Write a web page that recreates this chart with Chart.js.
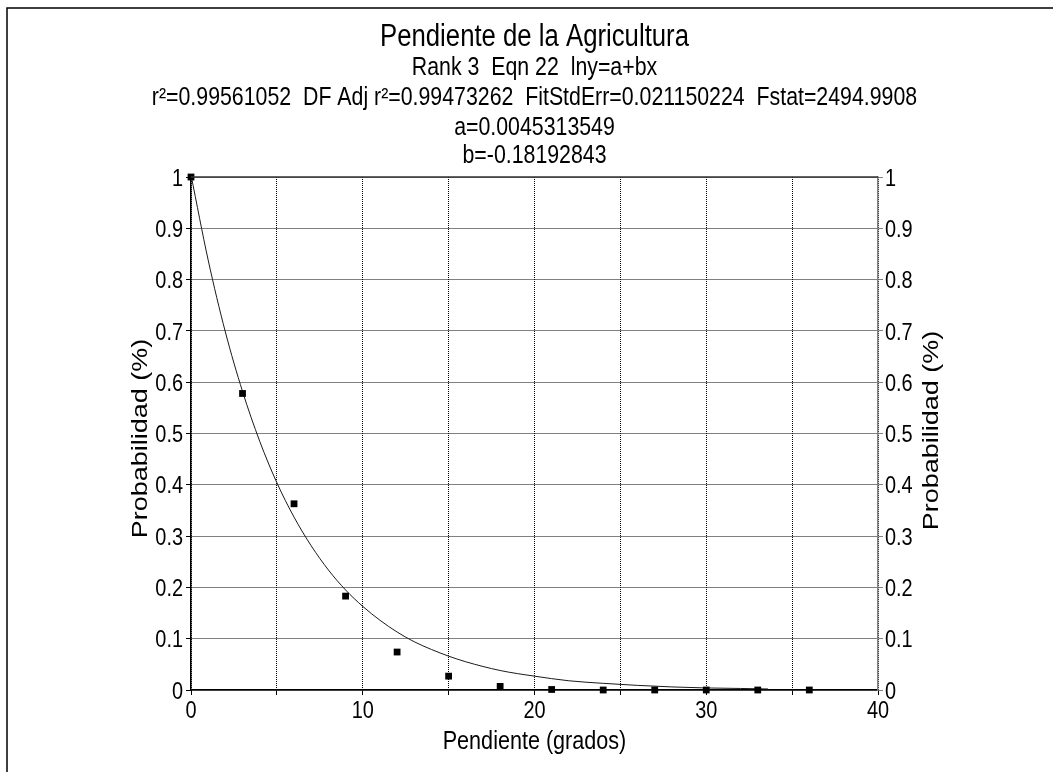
<!DOCTYPE html>
<html>
<head>
<meta charset="utf-8">
<title>Pendiente de la Agricultura</title>
<script src="https://cdn.jsdelivr.net/npm/chart.js@4/dist/chart.umd.min.js"></script>
<style>
  html, body { margin: 0; padding: 0; background: #fff; }
  canvas { display: block; }
</style>
</head>
<body>
<canvas id="fit-chart" width="1053" height="772"></canvas>
<script>
// observed slope samples (degrees) and probability
const slopeDeg = [0, 3, 6, 9, 12, 15, 18, 21, 24, 27, 30, 33, 36];
const probability = [1.0, 0.578, 0.363, 0.183, 0.074, 0.027, 0.007, 0.001, 0, 0, 0, 0, 0];

// fitted curve lny = a + bx
const curveX = [0, 1, 2, 3, 4, 5, 6, 7, 8, 9, 10, 11, 12, 13, 14, 15, 16, 18, 20, 22, 24, 26, 28, 30, 32, 33.6];
const curveY = [1.004, 0.838, 0.698, 0.582, 0.485, 0.404, 0.337, 0.281, 0.234, 0.195, 0.163, 0.136, 0.113,
  0.094, 0.079, 0.066, 0.055, 0.038, 0.027, 0.018, 0.013, 0.009, 0.006, 0.004, 0.003, 0.002];

const xTickLabels = [0, 10, 20, 30, 40];

const headerLines = [
  'Pendiente de la Agricultura',
  'Rank 3  Eqn 22  lny=a+bx',
  'r²=0.99561052  DF Adj r²=0.99473262  FitStdErr=0.021150224  Fstat=2494.9908',
  'a=0.0045313549',
  'b=-0.18192843'
];
const yTitle = 'Probabilidad (%)';
const xTitle = 'Pendiente (grados)';

const FONT = "'Liberation Sans', Arial, sans-serif";
const SX = 0.83; // horizontal squeeze, narrow-face look

// text squeezed along the page x direction, also when rotated
function narrowText(ctx, text, x, y, size, align, baseline, rot) {
  ctx.save();
  ctx.translate(x, y);
  ctx.scale(SX, 1);
  if (rot) ctx.rotate(rot);
  ctx.font = size + 'px ' + FONT;
  ctx.fillStyle = '#000';
  ctx.textAlign = align;
  ctx.textBaseline = baseline;
  ctx.fillText(text, 0, 0);
  ctx.restore();
}

function fmt(v) {
  return String(Number(v.toFixed(1)));
}

// header, frame, plot top edge, tick labels and axis titles
const decorations = {
  id: 'decorations',
  afterDraw(chart) {
    const { ctx, chartArea, scales } = chart;
    const cx = (chartArea.left + chartArea.right) / 2;
    const cy = (chartArea.top + chartArea.bottom) / 2;
    ctx.save();

    ctx.strokeStyle = '#000';
    ctx.lineWidth = 1.5;
    ctx.beginPath();
    ctx.moveTo(7, 772);
    ctx.lineTo(7, 8);
    ctx.lineTo(1053, 8);
    ctx.stroke();

    ctx.strokeStyle = '#333';
    ctx.beginPath();
    ctx.moveTo(chartArea.left, chartArea.top);
    ctx.lineTo(chartArea.right, chartArea.top);
    ctx.stroke();
    ctx.restore();

    narrowText(ctx, headerLines[0], cx, 37, 31, 'center', 'middle');
    const rows = [68, 98, 128, 156];
    headerLines.slice(1).forEach((t, i) => narrowText(ctx, t, cx, rows[i], 25.7, 'center', 'middle'));

    scales.x.ticks.forEach((t) => {
      if (!xTickLabels.includes(t.value)) return;
      narrowText(ctx, String(t.value), scales.x.getPixelForValue(t.value), 718, 24, 'center', 'alphabetic');
    });
    scales.y.ticks.forEach((t) => {
      const py = scales.y.getPixelForValue(t.value) + 8.6;
      narrowText(ctx, fmt(t.value), chartArea.left - 8, py, 24, 'right', 'alphabetic');
      narrowText(ctx, fmt(t.value), chartArea.right + 7, py, 24, 'left', 'alphabetic');
    });

    narrowText(ctx, xTitle, cx, 749, 26, 'center', 'alphabetic');
    narrowText(ctx, yTitle, 147, cy + 5, 27, 'center', 'alphabetic', -Math.PI / 2);
    narrowText(ctx, yTitle, 938, cy - 3, 27, 'center', 'alphabetic', -Math.PI / 2);
  }
};

const gridLines = {
  color: '#000',
  lineWidth: 1,
  tickLength: 5,
  tickColor: '#000',
  tickBorderDash: []
};

new Chart(document.getElementById('fit-chart'), {
  type: 'scatter',
  data: {
    datasets: [
      {
        label: 'datos',
        data: slopeDeg.map((x, i) => ({ x, y: probability[i] })),
        pointStyle: 'rect',
        pointRadius: 4.8,
        pointBackgroundColor: '#000',
        pointBorderWidth: 0,
        showLine: false,
        clip: false
      },
      {
        label: 'ajuste',
        data: curveX.map((x, i) => ({ x, y: curveY[i] })),
        showLine: true,
        borderColor: '#1a1a1a',
        borderWidth: 1,
        pointRadius: 0,
        cubicInterpolationMode: 'monotone',
        clip: false
      }
    ]
  },
  options: {
    responsive: false,
    animation: false,
    devicePixelRatio: 1,
    layout: { padding: { top: 177, left: 120, right: 0, bottom: 0 } },
    plugins: {
      legend: { display: false },
      tooltip: { enabled: false }
    },
    scales: {
      x: {
        type: 'linear',
        position: 'bottom',
        min: 0,
        max: 40,
        afterFit: (s) => { s.height = 82; },
        ticks: { stepSize: 5, autoSkip: false, display: false },
        grid: gridLines,
        border: { color: '#000', width: 1.5, dash: [1, 1] }
      },
      y: {
        type: 'linear',
        position: 'left',
        min: 0,
        max: 1,
        afterFit: (s) => { s.width = 71; },
        ticks: { stepSize: 0.1, display: false },
        grid: gridLines,
        border: { color: '#000', width: 1.5, dash: [1, 1] }
      },
      y2: {
        type: 'linear',
        position: 'right',
        min: 0,
        max: 1,
        afterFit: (s) => { s.width = 175; },
        ticks: { stepSize: 0.1, display: false },
        grid: {
          drawOnChartArea: false,
          tickLength: 5,
          tickColor: '#808080',
          tickBorderDash: []
        },
        border: { color: '#808080', width: 1.5 }
      }
    }
  },
  plugins: [decorations]
});
</script>
</body>
</html>
